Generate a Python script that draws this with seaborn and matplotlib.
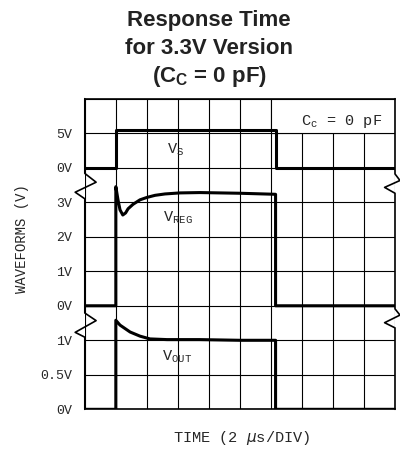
import numpy as np
import pandas as pd
import matplotlib
matplotlib.use("Agg")
import matplotlib.pyplot as plt
import seaborn as sns
from matplotlib.patches import Rectangle

sns.set_style("white")
plt.rcParams['font.family'] = ['Liberation Sans', 'DejaVu Sans']
plt.rcParams['mathtext.fontset'] = 'custom'
plt.rcParams['mathtext.rm'] = 'Liberation Sans'
plt.rcParams['mathtext.bf'] = 'Liberation Sans:bold'
plt.rcParams['mathtext.tt'] = 'Liberation Mono'

MONO = 'Liberation Mono'

# time in microseconds (2 us / div)
vs_t = [0, 2.0, 2.0, 12.3, 12.3, 20]
vs_v = [0, 0, 5.5, 5.5, 0, 0]

vreg_t = [0, 2.0, 2.0, 2.14, 2.27, 2.45, 2.63, 2.79, 3.11, 3.56, 4.01, 4.53,
          5.17, 6.14, 7.43, 10.0, 12.3, 12.3, 20]
vreg_v = [0, 0, 3.45, 3.07, 2.78, 2.63, 2.69, 2.81, 2.94, 3.07, 3.14, 3.20,
          3.24, 3.27, 3.28, 3.26, 3.23, 0, 0]

vout_t = [0, 2.0, 2.0, 2.27, 2.92, 3.56, 4.2, 5.3, 7.4, 10.0, 12.3, 12.3, 20]
vout_v = [0, 0, 1.29, 1.22, 1.12, 1.06, 1.02, 1.01, 1.01, 1.0, 1.0, 0, 0]

# each trace gets its own band of the stacked scope screen (offset div, volts per div)
bands = {'VS': (7, 5.0), 'VREG': (3, 1.0), 'VOUT': (0, 0.5)}

ytick_labels = ['0V', '0.5V', '1V', '0V', '1V', '2V', '3V', '0V', '5V', '']

frames = []
for name, t, v in [('VS', vs_t, vs_v), ('VREG', vreg_t, vreg_v), ('VOUT', vout_t, vout_v)]:
    off, scale = bands[name]
    frames.append(pd.DataFrame({'t': t, 'div': off + np.array(v) / scale,
                                'trace': name, 'order': range(len(t))}))
df = pd.concat(frames, ignore_index=True)

fig = plt.figure(figsize=(4, 4.5), dpi=100)
ax = fig.add_axes([0.212, 0.0904, 0.7755, 0.6903])

for name in bands:
    sns.lineplot(data=df[df['trace'] == name], x='t', y='div', estimator=None,
                 sort=False, color='black', lw=2.2, ax=ax, zorder=3)

ax.set_xlim(0, 20)
ax.set_ylim(0, 9)
ax.set_xticks(range(0, 21, 2))
ax.set_xticklabels([])
ax.set_yticks(range(10))
ax.set_yticklabels(ytick_labels, fontfamily=MONO, fontsize=9.5)
ax.tick_params(length=0, pad=9)
ax.grid(True, color='black', lw=0.8)
ax.set_xlabel('')
ax.set_ylabel('')
for s in ['left', 'right']:
    ax.spines[s].set_visible(False)
for s in ['top', 'bottom']:
    ax.spines[s].set_color('black')
    ax.spines[s].set_linewidth(1.2)

# white label box in the top right corner
ax.add_patch(Rectangle((12, 8), 8, 1, facecolor='white', edgecolor='black',
                       lw=0.8, zorder=1.5))
ax.text(13.95, 8.25, 'C$_\\mathtt{c}$ = 0 pF', fontfamily=MONO, fontsize=11)

# side borders with break marks
kw = dict(color='black', lw=1.2, clip_on=False, zorder=4)
ax.plot([0, 0, 0.73, -0.62, 0, 0, 0.73, -0.62, 0, 0],
        [9, 6.835, 6.58, 6.29, 6.10, 2.79, 2.57, 2.23, 2.09, 0], **kw)
ax.plot([20, 20, 20.32, 19.33, 20, 20, 20.32, 19.33, 20, 20],
        [9, 6.82, 6.63, 6.43, 6.26, 2.91, 2.73, 2.51, 2.36, 0], **kw)

ax.text(5.3, 7.41, 'V$_\\mathtt{S}$', fontfamily=MONO, fontsize=11)
ax.text(5.06, 5.44, 'V$_\\mathtt{REG}$', fontfamily=MONO, fontsize=11)
ax.text(4.96, 1.42, 'V$_\\mathtt{OUT}$', fontfamily=MONO, fontsize=11)

fig.text(22 / 400, 1 - 239 / 450, 'WAVEFORMS (V)', rotation=90, ha='center',
         va='center', fontfamily=MONO, fontsize=10)
fig.text(242 / 400, 1 - 438 / 450, 'TIME (2 $\\mu$s/DIV)', ha='center',
         va='center', fontfamily=MONO, fontsize=11)

title_lines = ['Response Time', 'for 3.3V Version', '(C$_\\mathbf{C}$ = 0 pF)']
for line, base in zip(title_lines, [25.7, 54, 81.7]):
    fig.text(209 / 400, 1 - base / 450, line, ha='center', va='baseline',
             fontsize=16, fontweight='bold', color='#222222')

fig.savefig('out.png', dpi=100)
